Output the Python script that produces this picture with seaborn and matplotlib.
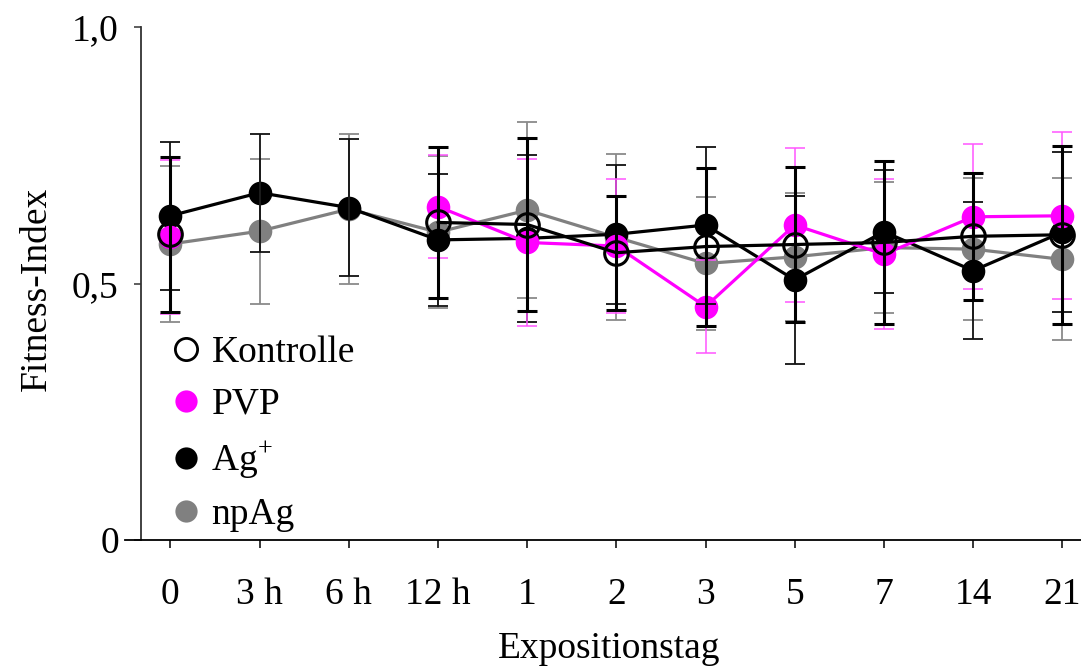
import numpy as np
import pandas as pd
import matplotlib
matplotlib.use("Agg")
import matplotlib.pyplot as plt
from matplotlib.lines import Line2D
import seaborn as sns

nan = np.nan
days = ['0', '3 h', '6 h', '12 h', '1', '2', '3', '5', '7', '14', '21']

kontrolle = [0.596, nan, nan, 0.619, 0.615, 0.560, 0.572, 0.576, 0.580, 0.592, 0.595]
kontrolle_err = [0.151, nan, nan, 0.148, 0.168, 0.111, 0.154, 0.152, 0.158, 0.124, 0.174]
pvp = [0.590, nan, nan, 0.650, 0.580, 0.573, 0.455, 0.614, 0.557, 0.630, 0.632]
pvp_err = [0.150, nan, nan, 0.100, 0.163, 0.130, 0.091, 0.150, 0.146, 0.141, 0.163]
ag = [0.632, 0.677, 0.648, 0.585, 0.588, 0.596, 0.614, 0.507, 0.601, 0.525, 0.600]
ag_err = [0.144, 0.115, 0.133, 0.128, 0.163, 0.135, 0.153, 0.164, 0.120, 0.134, 0.156]
npag = [0.577, 0.602, 0.645, 0.600, 0.643, 0.590, 0.539, 0.552, 0.570, 0.567, 0.547]
npag_err = [0.152, 0.141, 0.146, 0.148, 0.172, 0.162, 0.130, 0.125, 0.128, 0.138, 0.158]

series_names = ['Kontrolle', 'PVP', 'Ag+', 'npAg']

sns.set_theme(style='ticks')
plt.rcParams['font.family'] = ['Liberation Serif', 'DejaVu Serif']
plt.rcParams['mathtext.fontset'] = 'custom'
plt.rcParams['mathtext.rm'] = 'Liberation Serif'
for k in ['text.color', 'axes.labelcolor', 'xtick.color', 'ytick.color']:
    plt.rcParams[k] = 'black'
FS = 27

fig = plt.figure(figsize=(10.81, 6.69), dpi=100)
ax = fig.add_axes([141 / 1081, 129 / 669, 940 / 1081, 513 / 669])

x = np.arange(len(days))


def make_df(vals):
    v = np.array(vals, dtype=float)
    # separate line segments wherever values are missing
    seg = np.cumsum(np.isnan(v).astype(int))
    df = pd.DataFrame({'x': x, 'y': v, 'seg': seg})
    return df.dropna()


styles = {
    'npAg': dict(vals=npag, err=npag_err, color='#808080', mfc='#808080', ecolor='#8a8a8a', elw=1.3, z=2),
    'Ag+': dict(vals=ag, err=ag_err, color='black', mfc='black', ecolor='#111111', elw=1.3, z=3),
    'PVP': dict(vals=pvp, err=pvp_err, color='#ff00ff', mfc='#ff00ff', ecolor='#ff55ff', elw=1.1, z=4),
    'Kontrolle': dict(vals=kontrolle, err=kontrolle_err, color='black', mfc='none', ecolor='black', elw=2.2, z=5),
}

for name in ['npAg', 'Ag+', 'PVP', 'Kontrolle']:
    st = styles[name]
    df = make_df(st['vals'])
    sns.lineplot(data=df, x='x', y='y', units='seg', estimator=None, ax=ax,
                 color=st['color'], lw=2.3, marker='o', markersize=17,
                 markerfacecolor=st['mfc'], markeredgecolor=st['color'],
                 markeredgewidth=2.2 if st['mfc'] == 'none' else 0,
                 legend=False, zorder=st['z'])

for name in ['npAg', 'PVP', 'Ag+', 'Kontrolle']:
    st = styles[name]
    ax.errorbar(x, st['vals'], yerr=st['err'], fmt='none', ecolor=st['ecolor'],
                elinewidth=st['elw'], capsize=7, capthick=st['elw'], zorder=10 + st['z'])

ax.set_xlim(-0.33, 10.21)
ax.set_ylim(0, 1.0)
ax.set_xticks(x)
ax.set_xticklabels(days, fontsize=FS)
ax.set_yticks([0, 0.5, 1.0])
ax.set_yticklabels(['0', '0,5', '1,0'], fontsize=FS)
ax.tick_params(axis='x', length=6, width=1.1, pad=21, color='black')
ax.tick_params(axis='y', length=5, width=1.1, pad=11, color='#333333')

sns.despine(ax=ax)
ax.spines['bottom'].set_bounds(-0.51, 10.21)
ax.spines['bottom'].set_linewidth(1.3)
ax.spines['bottom'].set_color('black')
ax.spines['left'].set_linewidth(1.3)
ax.spines['left'].set_color('#333333')

ax.set_xlabel('Expositionstag', fontsize=FS)
ax.set_ylabel('Fitness-Index', fontsize=FS)
ax.xaxis.set_label_coords(0.498, -0.178)
ax.yaxis.set_label_coords(-0.093, 0.49)

handles = [
    Line2D([], [], ls='none', marker='o', markersize=16, markerfacecolor='none',
           markeredgecolor='black', markeredgewidth=2.0),
    Line2D([], [], ls='none', marker='o', markersize=16, markerfacecolor='#ff00ff', markeredgewidth=0),
    Line2D([], [], ls='none', marker='o', markersize=16, markerfacecolor='black', markeredgewidth=0),
    Line2D([], [], ls='none', marker='o', markersize=16, markerfacecolor='#808080', markeredgewidth=0),
]
labels = ['Kontrolle', 'PVP', r'Ag$^{\mathregular{+}}$', 'npAg']
ax.legend(handles, labels, loc='upper left', bbox_to_anchor=(0.033, 0.398),
          frameon=False, borderaxespad=0, borderpad=0, handlelength=0.75,
          handletextpad=0.3, labelspacing=0.45, fontsize=FS)

fig.savefig('out.png', dpi=100)
